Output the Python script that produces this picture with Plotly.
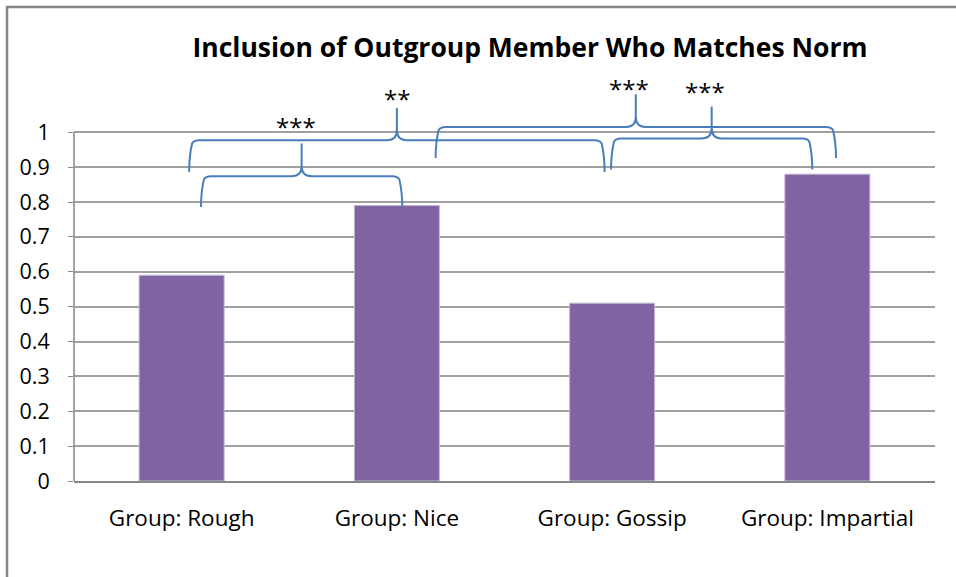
import plotly.graph_objects as go

# bar data
groups = ["Group: Rough", "Group: Nice", "Group: Gossip", "Group: Impartial"]
inclusion = [0.59, 0.79, 0.51, 0.88]

# significance brackets: left / right position (category index), leg bottom, bar height, tip, stars
brace_left = [0.09, 0.035, 1.18, 1.995]
brace_right = [1.025, 1.965, 3.04, 2.93]
brace_base = [0.786, 0.886, 0.926, 0.893]
brace_bar = [0.874, 0.977, 1.015, 0.982]
brace_tip = [0.968, 1.070, 1.109, 1.074]
brace_stars = ["***", "**", "***", "***"]
stars_x = [0.53, 1.0, 2.08, 2.43]
stars_y = [1.018, 1.096, 1.125, 1.117]

FONT = "Open Sans, Lato, sans-serif"
BLUE = "#4A7EBB"
GRAY = "#868686"


def brace_path(xl, xr, yb, yh, yt, rx=0.045, ry=0.03):
    xm = (xl + xr) / 2
    return (
        f"M {xl},{yb} Q {xl},{yh - ry * 1.5} {xl + rx * 0.3},{yh - ry * 0.3} "
        f"Q {xl + rx * 0.5},{yh} {xl + rx},{yh} "
        f"L {xm - rx},{yh} Q {xm},{yh} {xm},{yh + ry} L {xm},{yt} "
        f"M {xm},{yh + ry} Q {xm},{yh} {xm + rx},{yh} "
        f"L {xr - rx},{yh} Q {xr - rx * 0.5},{yh} {xr - rx * 0.3},{yh - ry * 0.3} "
        f"Q {xr},{yh - ry * 1.5} {xr},{yb}"
    )


fig = go.Figure()

fig.add_trace(
    go.Bar(
        x=list(range(len(groups))),
        y=inclusion,
        width=0.395,
        marker=dict(color="#8064A2", line=dict(color="#C4B8D6", width=1)),
    )
)

for i in range(len(brace_stars)):
    fig.add_shape(
        type="path",
        xref="x", yref="y",
        path=brace_path(brace_left[i], brace_right[i], brace_base[i], brace_bar[i], brace_tip[i]),
        line=dict(color=BLUE, width=2),
        layer="above",
    )
    fig.add_annotation(
        x=stars_x[i], y=stars_y[i], xref="x", yref="y",
        text=brace_stars[i], showarrow=False,
        font=dict(family=FONT, size=24, color="black"),
    )

# y axis line only from 0 to 1
fig.add_shape(type="line", xref="paper", yref="y", x0=0, x1=0, y0=0, y1=1,
              line=dict(color=GRAY, width=1.5))

# chart border
fig.add_shape(type="rect", xref="paper", yref="paper",
              x0=-0.0778, x1=1.2, y0=-0.5, y1=1.182,
              line=dict(color=GRAY, width=2.5))

fig.update_layout(
    width=956, height=577,
    margin=dict(l=74, r=21, t=80, b=96),
    paper_bgcolor="white", plot_bgcolor="white",
    showlegend=False,
    font=dict(family=FONT, size=22.5, color="black"),
    title=dict(
        text="<b>Inclusion of Outgroup Member Who Matches Norm</b>",
        x=530 / 956, xanchor="center", xref="container",
        y=1 - 48 / 577, yanchor="middle", yref="container",
        font=dict(family=FONT, size=26.5, color="black"),
    ),
    xaxis=dict(
        range=[-0.5, 3.5],
        tickvals=list(range(len(groups))), ticktext=groups,
        showgrid=False, zeroline=False,
        showline=True, linecolor=GRAY, linewidth=1.5,
        ticks="", ticklabelstandoff=16,
    ),
    yaxis=dict(
        range=[0, 1.15],
        tickvals=[i / 10 for i in range(11)],
        ticktext=["0"] + [f"{i / 10:.1f}" for i in range(1, 10)] + ["1"],
        showgrid=True, gridcolor="#A0A0A0", gridwidth=1.5,
        zeroline=False, showline=False,
        ticks="outside", ticklen=5, tickcolor=GRAY,
        ticklabelstandoff=14,
        tickfont=dict(size=21.5),
    ),
)

fig.write_html(
    "out.html",
    config={"displayModeBar": False},
    post_script="document.body.style.margin='0';",
)
